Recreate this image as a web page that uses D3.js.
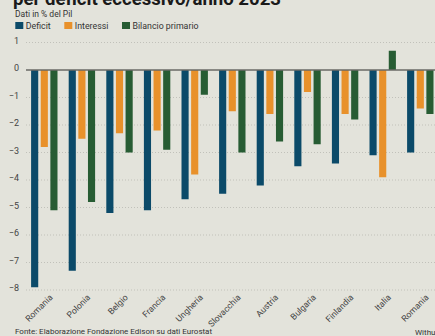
<!DOCTYPE html>
<html><head><meta charset="utf-8">
<script src="https://cdn.jsdelivr.net/npm/d3@7"></script>
<style>
html,body{margin:0;padding:0;background:#e3e3db;}
svg{display:block;}
text{font-family:Roboto, "Noto Sans", sans-serif;}
</style></head>
<body>
<script>
const categories = ["Romania","Polonia","Belgio","Francia","Ungheria","Slovacchia","Austria","Bulgaria","Finlandia","Italia","Romania "];
const deficit = [-7.9,-7.3,-5.2,-5.1,-4.7,-4.5,-4.2,-3.5,-3.4,-3.1,-3.0];
const interessi = [-2.8,-2.5,-2.3,-2.2,-3.8,-1.5,-1.6,-0.8,-1.6,-3.9,-1.4];
const bilancio = [-5.1,-4.8,-3.0,-2.9,-0.9,-3.0,-2.6,-2.7,-1.8,0.7,-1.6];
const seriesNames = ["Deficit","Interessi","Bilancio primario"];
const seriesColors = ["#0b4a69","#e8912b","#275c33"];
const yTicks = [1,0,-1,-2,-3,-4,-5,-6,-7,-8];
const title = "per deficit eccessivo/anno 2023";
const subtitle = "Dati in % del Pil";
const source = "Fonte: Elaborazione Fondazione Edison su dati Eurostat";
const credit = "Withub";

const W=435,H=336;
const svg=d3.select("body").append("svg").attr("width",W).attr("height",H);
svg.append("rect").attr("width",W).attr("height",H).attr("fill","#e3e3db");

const series=[deficit,interessi,bilancio];
const data=categories.map((c,i)=>({cat:c,vals:series.map(s=>s[i])}));

const y=d3.scaleLinear().domain([-8,1]).range([290,42.5]);
const x0=d3.scaleBand().domain(categories).range([25.5,439.1]).padding(0);
const bw=x0.bandwidth();
const x1=d3.scaleBand().domain([0,1,2]).range([bw*0.149,bw*0.851]).paddingInner(0.26);

// title
svg.append("text").attr("x",13).attr("y",5).text(title)
 .attr("font-family","'DejaVu Serif', 'Liberation Serif', serif").attr("font-weight","bold")
 .attr("font-size",18.6).attr("fill","#1a1a1a");
svg.append("text").attr("x",15).attr("y",16.5).text(subtitle).attr("font-size",8.5).attr("fill","#333");

// legend
const legX=[15.3,64.3,122];
seriesNames.forEach((n,i)=>{
  svg.append("rect").attr("x",legX[i]).attr("y",22).attr("width",8).attr("height",7).attr("fill",seriesColors[i]);
  svg.append("text").attr("x",legX[i]+10.5).attr("y",29).text(n).attr("font-size",8.8).attr("fill","#333");
});

// grid
const g=svg.append("g");
yTicks.filter(t=>t!==0).forEach(t=>{
  g.append("line").attr("x1",26).attr("x2",W).attr("y1",y(t)).attr("y2",y(t))
   .attr("stroke","#b9b9b1").attr("stroke-width",0.8).attr("stroke-dasharray","1,2");
});
const yAxis=d3.axisLeft(y).tickValues(yTicks).tickSize(0).tickFormat(d3.format("d"));
const ya=svg.append("g").attr("transform","translate(22,-2)").call(yAxis);
ya.select(".domain").remove();
ya.selectAll("text").attr("font-size",9).attr("fill","#444").attr("font-family","Roboto, sans-serif").attr("dx",0);

// bars
const grp=svg.selectAll(".grp").data(data).enter().append("g").attr("transform",d=>`translate(${x0(d.cat)},0)`);
grp.selectAll("rect").data(d=>d.vals.map((v,i)=>({v,i}))).enter().append("rect")
  .attr("x",d=>x1(d.i)).attr("width",x1.bandwidth())
  .attr("y",d=>Math.min(y(0),y(d.v))).attr("height",d=>Math.abs(y(d.v)-y(0)))
  .attr("fill",d=>seriesColors[d.i]);

// zero line
svg.append("line").attr("x1",26).attr("x2",W).attr("y1",y(0)).attr("y2",y(0)).attr("stroke","#6a6a66").attr("stroke-width",1.5);

// category labels
categories.forEach(c=>{
  const cx=x0(c)+bw/2;
  svg.append("text").attr("transform",`translate(${cx+9},${298}) rotate(-45)`)
   .attr("text-anchor","end").attr("font-size",8.7).attr("fill","#444").text(c.trim());
});

svg.append("text").attr("x",15).attr("y",334).text(source).attr("font-size",8).attr("fill","#333");
svg.append("text").attr("x",415).attr("y",335).text(credit).attr("font-size",8).attr("fill","#333");
</script>
</body></html>
